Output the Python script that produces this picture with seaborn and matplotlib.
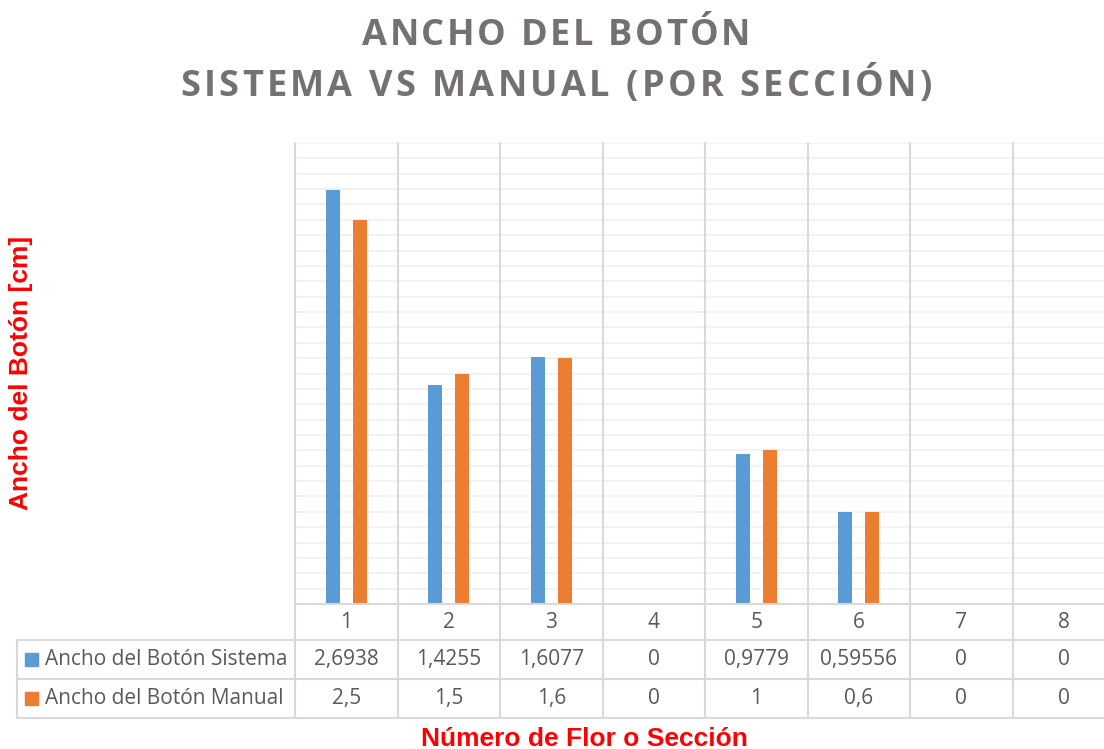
import numpy as np
import pandas as pd
import matplotlib
matplotlib.use("Agg")
import matplotlib.pyplot as plt
import matplotlib.transforms as mtransforms
from matplotlib import font_manager
from matplotlib.ft2font import FT2Font
import seaborn as sns

# Data
secciones = ["1", "2", "3", "4", "5", "6", "7", "8"]
series = ["Ancho del Botón Sistema", "Ancho del Botón Manual"]
sistema = [2.6938, 1.4255, 1.6077, 0, 0.9779, 0.59556, 0, 0]
manual = [2.5, 1.5, 1.6, 0, 1, 0.6, 0, 0]
colores = ["#5B9BD5", "#ED7D31"]
titulo = ["ANCHO DEL BOTÓN", "SISTEMA VS MANUAL (POR SECCIÓN)"]

df = pd.DataFrame({
    "seccion": secciones * 2,
    "valor": sistema + manual,
    "serie": [series[0]] * len(secciones) + [series[1]] * len(secciones),
})

sns.set_theme(style="white")
plt.rcParams["font.family"] = ["Open Sans", "DejaVu Sans"]

W, H = 1104, 749
DPI = 100
fig = plt.figure(figsize=(W / DPI, H / DPI), dpi=DPI)

def fx(px):
    return px / W

def fy(py):
    return 1 - py / H

left_px, right_px, top_px, bot_px = 295, 1115, 143, 604
ax = fig.add_axes([fx(left_px), fy(bot_px), fx(right_px) - fx(left_px), fy(top_px) - fy(bot_px)])

sns.barplot(data=df, x="seccion", y="valor", hue="serie", order=secciones,
            hue_order=series, palette=colores, width=0.52, dodge=True,
            legend=False, ax=ax, saturation=1)

# narrower bars with a gap between the pair
bw = 0.137
for p in ax.patches:
    cx = p.get_x() + p.get_width() / 2
    p.set_width(bw)
    p.set_x(cx - bw / 2)
    p.set_edgecolor("none")

ax.set_xlim(-0.5, len(secciones) - 0.5)
ax.set_ylim(0, 3.0)
ax.set_yticks(np.arange(0.1, 3.01, 0.1))
ax.set_yticklabels([])
ax.set_xticks([])
ax.tick_params(length=0)
ax.yaxis.grid(True, color="#F0F0F0", linewidth=1.2)
ax.set_axisbelow(True)
for s in ax.spines.values():
    s.set_visible(False)
ax.set_xlabel("")
ax.set_ylabel("")

# Data table below the plot area
line_c = "#D9D9D9"
text_c = "#595959"
trans = mtransforms.blended_transform_factory(ax.transData, fig.transFigure)
row_y = [604, 640, 679, 718]
bounds = np.arange(-0.5, len(secciones), 1.0)

# vertical separators through plot and table
for b in bounds:
    ax.plot([b, b], [fy(top_px), fy(row_y[-1])], transform=trans, color=line_c,
            linewidth=1.5, clip_on=False, zorder=5)
# horizontal table lines
ax.plot([-0.5, len(secciones) - 0.5], [fy(row_y[0])] * 2, transform=trans,
        color=line_c, linewidth=1.5, clip_on=False, zorder=5)
for ry in row_y[1:]:
    fig.add_artist(plt.Line2D([fx(17), fx(left_px)], [fy(ry)] * 2, color=line_c, linewidth=1.5))
    ax.plot([-0.5, len(secciones) - 0.5], [fy(ry)] * 2, transform=trans,
            color=line_c, linewidth=1.5, clip_on=False, zorder=5)
fig.add_artist(plt.Line2D([fx(17)] * 2, [fy(row_y[1]), fy(row_y[-1])], color=line_c, linewidth=1.5))

def fmt(v):
    return f"{v:g}".replace(".", ",")

fs_tab = 15
for i, s in enumerate(secciones):
    ax.text(i, fy((row_y[0] + row_y[1]) / 2), s, transform=trans, ha="center",
            va="center", fontsize=fs_tab, color=text_c)
    ax.text(i, fy((row_y[1] + row_y[2]) / 2), fmt(sistema[i]), transform=trans,
            ha="center", va="center", fontsize=fs_tab, color=text_c)
    ax.text(i, fy((row_y[2] + row_y[3]) / 2), fmt(manual[i]), transform=trans,
            ha="center", va="center", fontsize=fs_tab, color=text_c)

for k, (name, col) in enumerate(zip(series, colores)):
    yc = (row_y[k + 1] + row_y[k + 2]) / 2
    fig.add_artist(plt.Rectangle((fx(25), fy(yc + 6.5)), fx(13), 13 / H, color=col))
    fig.text(fx(45), fy(yc), name, ha="left", va="center", fontsize=fs_tab, color=text_c)

# Title with letter spacing: each glyph placed by its advance width
title_fp = font_manager.FontProperties(family="Open Sans", weight="bold")
title_font = FT2Font(font_manager.findfont(title_fp))
title_size = 26
title_font.set_size(title_size, DPI)

def spaced_text(text, cx_px, base_px, tracking_px):
    advs = [title_font.load_char(ord(c)).linearHoriAdvance / 65536 for c in text]
    total = sum(advs) + tracking_px * (len(text) - 1)
    x = cx_px - total / 2
    for c, a in zip(text, advs):
        fig.text(fx(x + a / 2), fy(base_px), c, ha="center", va="baseline",
                 fontsize=title_size, fontproperties=title_fp, color="#767171")
        x += a + tracking_px

spaced_text(titulo[0], 556, 45, 2.6)
spaced_text(titulo[1], 556, 96, 3.4)

fig.text(fx(584), fy(739), "Número de Flor o Sección", ha="center", va="center",
         fontsize=19, fontweight="bold", color="#FF0000", family="Liberation Sans")
fig.text(fx(21), fy(373), "Ancho del Botón [cm]", ha="center", va="center",
         rotation=90, fontsize=19, fontweight="bold", color="#FF0000", family="Liberation Sans")

fig.savefig("out.png", dpi=DPI)
